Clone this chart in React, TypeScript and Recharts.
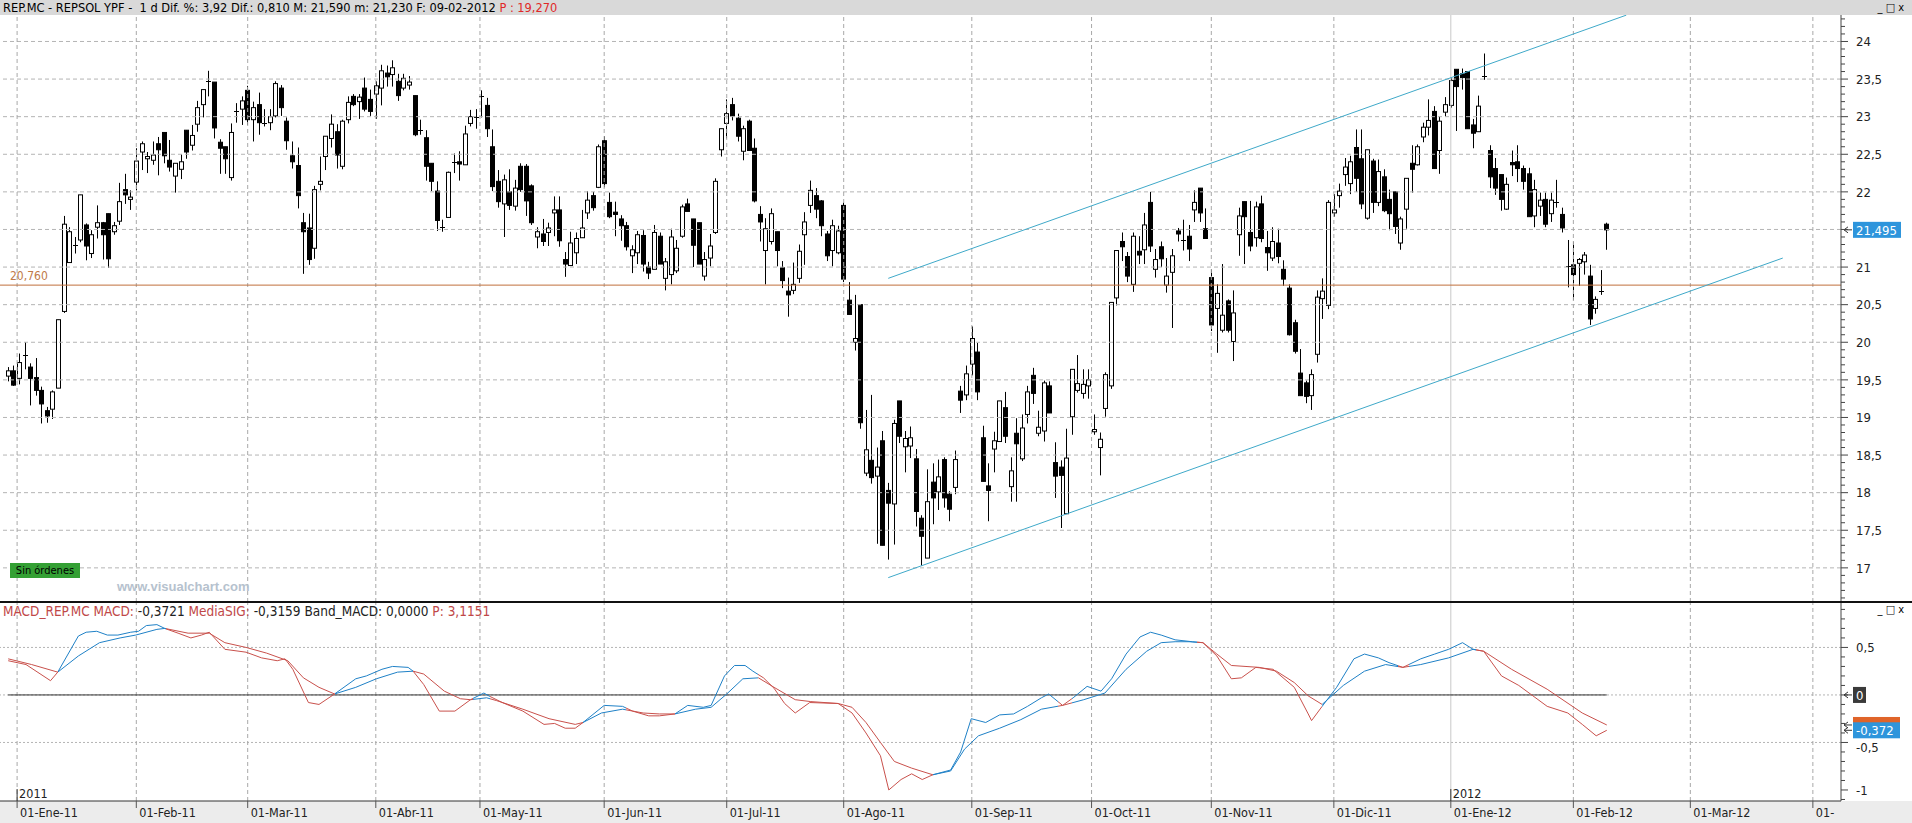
import React from 'react'
import { ComposedChart, LineChart, Line, Bar, XAxis, YAxis, ReferenceLine } from 'recharts'

const FONT = "'Liberation Sans Narrow', 'DejaVu Sans Condensed', 'Liberation Sans', sans-serif"
const RED = '#c8504b'
const BLUE = '#1e80c6'
const TREND = '#3fa9c9'

// x axis: trading-day index (0 = 30-Dec-2010)
const xDomain = [-1.47, 329.05]
const monthIdx = [1.6, 23, 43, 66, 84.7, 107, 129, 150, 173, 194.5, 216, 238, 259, 281, 302, 324]
const monthLabels = ['01-Ene-11', '01-Feb-11', '01-Mar-11', '01-Abr-11', '01-May-11', '01-Jun-11', '01-Jul-11', '01-Ago-11',
  '01-Sep-11', '01-Oct-11', '01-Nov-11', '01-Dic-11', '01-Ene-12', '01-Feb-12', '01-Mar-12', '01-']
const yearIdx = [1.6, 259]
const yearLabels = ['2011', '2012']

const priceDomain = [16.546, 24.352]
const priceGrid = [17, 17.5, 18, 18.5, 19, 19.5, 20, 20.5, 21, 21.5, 22, 22.5, 23, 23.5, 24]
const macdDomain = [-1.116, 0.978]
const macdLabels = [0.5, 0, -0.5, -1]

const opens = [
  19.55, 19.62, 19.52, 19.83, 19.67, 19.53, 19.36, 19.09, 19.11, 19.39,
  20.41, 21.06, 21.29, 21.36, 21.56, 21.18, 21.53, 21.59, 21.71, 21.47,
  21.61, 22.03, 21.90, 22.13, 22.53, 22.44, 22.42, 22.64, 22.79, 22.42,
  22.21, 22.30, 22.82, 22.62, 22.90, 23.16, 23.47, 23.46, 22.66, 22.60,
  22.19, 23.08, 23.10, 23.35, 22.96, 23.16, 22.92, 22.92, 23.01, 23.38,
  22.94, 22.48, 22.35, 21.59, 21.52, 21.25, 22.10, 22.47, 22.71, 22.80,
  22.34, 22.96, 23.27, 23.20, 23.38, 23.23, 23.30, 23.38, 23.58, 23.56,
  23.47, 23.38, 23.42, 23.28, 22.82, 22.72, 22.38, 22.01, 21.53, 21.66,
  22.40, 22.40, 22.36, 22.91, 23.00, 23.28, 23.15, 22.60, 22.14, 21.84,
  22.00, 21.81, 22.34, 22.34, 22.08, 21.40, 21.44, 21.46, 21.72, 21.76,
  21.10, 21.02, 21.19, 21.39, 21.72, 21.95, 22.06, 22.68, 21.86, 21.73,
  21.64, 21.55, 21.15, 21.19, 21.42, 21.00, 20.97, 21.41, 20.85, 20.90,
  20.95, 21.41, 21.84, 21.64, 21.59, 20.88, 21.12, 21.46, 22.56, 22.91,
  23.16, 22.98, 22.54, 22.94, 22.58, 21.70, 21.22, 21.34, 21.47, 20.99,
  20.68, 20.69, 20.85, 21.43, 21.82, 21.95, 21.88, 21.44, 21.22, 21.19,
  21.82, 20.56, 20.00, 20.50, 18.26, 18.43, 18.22, 18.69, 18.03, 17.85,
  19.22, 18.61, 18.62, 18.45, 17.66, 17.13, 18.14, 18.01, 18.44, 17.98,
  18.07, 19.35, 19.30, 19.71, 19.87, 18.73, 18.09, 18.58, 18.68, 19.13,
  18.08, 18.79, 18.45, 19.04, 19.56, 18.79, 18.82, 19.42, 18.40, 18.34,
  17.72, 19.01, 19.36, 19.32, 19.42, 18.81, 18.60, 19.12, 19.42, 20.59,
  21.34, 21.14, 20.77, 21.21, 21.23, 21.86, 20.97, 21.27, 20.76, 20.93,
  21.48, 21.36, 21.41, 21.76, 22.05, 21.51, 20.86, 20.45, 20.16, 20.55,
  20.01, 21.43, 21.87, 21.46, 21.39, 21.84, 21.26, 21.12, 21.32, 20.97,
  20.72, 20.26, 19.59, 19.46, 19.29, 19.84, 20.58, 20.49, 21.72, 21.95,
  22.23, 22.11, 22.59, 22.44, 21.65, 22.41, 21.86, 22.20, 21.90, 22.00,
  21.32, 21.77, 22.38, 22.36, 22.73, 22.86, 23.07, 22.55, 23.06, 23.15,
  23.63, 23.57, 23.60, 22.89, 22.80, 23.54, 22.55, 22.31, 22.23, 21.77,
  22.39, 22.40, 22.31, 22.24, 21.68, 21.81, 21.90, 21.71, 21.86, 21.70,
  21.01, 21.03, 21.05, 21.07, 20.88, 20.45, 20.685, 21.57,
]
const highs = [
  19.67, 19.69, 19.85, 20.00, 19.72, 19.79, 19.41, 19.14, 19.36, 20.30,
  21.68, 21.53, 21.40, 21.96, 21.58, 21.49, 21.82, 21.60, 21.71, 21.60,
  22.12, 22.24, 22.02, 22.58, 22.67, 22.53, 22.67, 22.73, 22.79, 22.69,
  22.38, 22.50, 22.82, 22.89, 23.21, 23.36, 23.61, 23.46, 22.70, 22.60,
  22.91, 23.18, 23.27, 23.41, 23.20, 23.32, 23.10, 23.10, 23.47, 23.42,
  22.99, 22.67, 22.59, 21.72, 21.71, 22.08, 22.47, 22.74, 23.03, 22.90,
  22.96, 23.27, 23.30, 23.30, 23.52, 23.36, 23.47, 23.69, 23.68, 23.75,
  23.57, 23.57, 23.54, 23.28, 22.96, 22.82, 22.38, 22.14, 21.63, 22.27,
  22.51, 22.54, 22.88, 23.09, 23.10, 23.35, 23.25, 22.83, 22.29, 22.23,
  22.30, 22.16, 22.38, 22.37, 22.10, 21.53, 21.64, 21.59, 21.94, 21.94,
  21.20, 21.47, 21.46, 21.76, 22.01, 22.00, 22.63, 22.74, 21.99, 21.87,
  21.69, 21.60, 21.29, 21.48, 21.49, 21.07, 21.56, 21.46, 21.12, 21.51,
  21.36, 21.83, 21.91, 21.64, 21.59, 21.20, 21.44, 22.18, 22.84, 23.23,
  23.25, 23.04, 22.88, 22.96, 22.71, 21.81, 21.65, 21.78, 21.47, 21.08,
  20.86, 21.06, 21.30, 21.73, 22.15, 22.05, 21.89, 21.48, 21.63, 21.55,
  21.86, 20.80, 20.63, 20.50, 19.10, 19.30, 18.60, 18.82, 18.13, 18.97,
  19.22, 18.82, 18.88, 18.58, 17.70, 18.31, 18.39, 18.44, 18.47, 18.02,
  18.56, 19.42, 19.69, 20.21, 19.99, 18.89, 18.39, 18.81, 19.22, 19.34,
  18.47, 18.99, 19.04, 19.42, 19.66, 19.09, 19.49, 19.48, 18.67, 18.43,
  18.85, 19.64, 19.83, 19.64, 19.64, 19.04, 18.80, 19.60, 20.53, 21.22,
  21.46, 21.20, 21.46, 21.41, 21.72, 22.00, 21.24, 21.34, 21.12, 21.24,
  21.52, 21.63, 21.56, 22.02, 22.05, 21.78, 20.97, 20.77, 21.04, 20.57,
  20.69, 21.79, 21.87, 21.88, 21.87, 21.95, 21.48, 21.53, 21.51, 21.09,
  20.77, 20.30, 19.91, 19.49, 19.64, 20.69, 20.85, 21.89, 21.97, 22.11,
  22.45, 22.48, 22.83, 22.83, 22.56, 22.44, 22.43, 22.30, 22.03, 22.00,
  21.67, 22.18, 22.62, 22.63, 22.92, 23.23, 23.14, 23.00, 23.26, 23.51,
  23.63, 23.64, 23.60, 22.97, 23.28, 23.84, 22.62, 22.45, 22.23, 22.19,
  22.55, 22.62, 22.35, 22.32, 22.16, 21.99, 21.99, 21.99, 22.16, 21.79,
  21.36, 21.34, 21.12, 21.20, 21.03, 20.61, 20.96, 21.59,
]
const lows = [
  19.48, 19.42, 19.44, 19.64, 19.16, 19.29, 18.92, 18.93, 18.98, 19.39,
  20.39, 21.06, 21.18, 21.33, 21.09, 21.12, 21.38, 21.10, 20.99, 21.43,
  21.56, 21.84, 21.76, 22.02, 22.29, 22.25, 22.36, 22.22, 22.38, 22.27,
  21.99, 22.17, 22.44, 22.55, 22.80, 22.99, 23.27, 22.71, 22.24, 22.24,
  22.15, 22.92, 22.89, 22.89, 22.67, 22.76, 22.87, 22.82, 22.99, 23.01,
  22.56, 22.31, 21.78, 20.91, 21.03, 21.11, 22.02, 22.29, 22.59, 22.31,
  22.30, 22.91, 23.14, 22.97, 23.07, 23.01, 22.97, 23.15, 23.40, 23.40,
  23.21, 23.35, 23.36, 22.74, 22.76, 22.15, 22.01, 21.48, 21.47, 21.66,
  22.25, 22.15, 22.36, 22.87, 22.84, 22.99, 22.73, 22.01, 21.79, 21.40,
  21.76, 21.75, 22.00, 21.68, 21.56, 21.25, 21.28, 21.28, 21.41, 21.27,
  20.87, 21.02, 21.04, 21.39, 21.64, 21.75, 22.05, 22.06, 21.65, 21.41,
  21.35, 21.22, 20.92, 21.04, 20.94, 20.84, 20.97, 21.04, 20.69, 20.77,
  20.92, 21.39, 21.74, 21.00, 21.04, 20.82, 21.01, 21.44, 22.47, 22.71,
  22.95, 22.67, 22.42, 22.55, 21.86, 21.34, 20.77, 21.30, 21.01, 20.72,
  20.34, 20.64, 20.79, 21.03, 21.72, 21.65, 21.41, 21.08, 21.01, 21.17,
  20.80, 20.37, 19.89, 18.85, 18.22, 18.12, 17.32, 17.30, 17.11, 17.31,
  18.66, 18.27, 18.46, 17.55, 17.03, 17.13, 17.58, 17.77, 17.80, 17.62,
  17.98, 19.06, 19.23, 19.56, 19.23, 18.15, 17.62, 18.27, 18.68, 18.66,
  17.88, 17.88, 18.42, 18.92, 19.18, 18.75, 18.68, 19.06, 17.93, 17.53,
  17.72, 18.77, 19.33, 19.25, 19.25, 18.77, 18.23, 19.01, 19.38, 20.49,
  21.08, 20.80, 20.67, 21.04, 21.04, 21.20, 20.86, 21.00, 20.66, 20.19,
  21.34, 21.22, 21.08, 21.60, 21.60, 21.38, 20.15, 19.86, 20.13, 20.13,
  19.75, 21.15, 21.04, 21.21, 21.27, 21.33, 20.95, 21.08, 21.05, 20.75,
  20.09, 19.85, 19.29, 19.19, 19.10, 19.73, 20.31, 20.44, 21.67, 21.79,
  22.08, 21.97, 22.00, 21.77, 21.63, 21.72, 21.81, 21.73, 21.49, 21.44,
  21.23, 21.51, 21.99, 22.35, 22.66, 22.75, 22.31, 22.24, 23.00, 23.12,
  22.81, 23.36, 22.84, 22.58, 22.80, 23.49, 22.05, 21.96, 21.75, 21.76,
  22.21, 22.13, 22.03, 21.67, 21.53, 21.68, 21.53, 21.60, 21.79, 21.46,
  20.73, 20.56, 20.75, 20.90, 20.23, 20.38, 20.63, 21.23,
]
const closes = [
  19.62, 19.43, 19.73, 19.83, 19.52, 19.36, 19.18, 19.02, 19.34, 20.30,
  21.57, 21.47, 21.29, 21.96, 21.28, 21.43, 21.59, 21.43, 21.11, 21.55,
  21.87, 21.96, 21.93, 22.41, 22.64, 22.47, 22.49, 22.56, 22.48, 22.33,
  22.38, 22.40, 22.53, 22.75, 23.12, 23.36, 23.47, 22.85, 22.58, 22.44,
  22.79, 23.08, 23.21, 22.96, 23.12, 22.92, 22.92, 23.00, 23.44, 23.12,
  22.68, 22.40, 21.95, 21.47, 21.10, 22.03, 22.14, 22.74, 22.90, 22.49,
  22.94, 23.19, 23.16, 23.26, 23.10, 23.07, 23.41, 23.61, 23.53, 23.65,
  23.28, 23.51, 23.46, 22.76, 22.82, 22.34, 22.14, 21.62, 21.53, 22.26,
  22.40, 22.37, 22.77, 23.00, 23.00, 23.28, 22.84, 22.07, 21.87, 22.16,
  21.82, 22.05, 22.03, 21.88, 21.59, 21.47, 21.34, 21.52, 21.76, 21.35,
  21.04, 21.32, 21.38, 21.52, 21.89, 21.79, 22.60, 22.11, 21.67, 21.70,
  21.55, 21.27, 21.23, 21.43, 21.04, 20.92, 21.46, 21.04, 21.07, 21.40,
  21.25, 21.80, 21.74, 21.29, 21.04, 21.10, 21.28, 22.14, 22.84, 23.04,
  23.01, 22.74, 22.84, 22.55, 21.88, 21.60, 21.51, 21.71, 21.22, 20.82,
  20.63, 20.77, 21.21, 21.60, 22.02, 21.77, 21.55, 21.15, 21.55, 21.48,
  20.84, 20.37, 20.05, 18.93, 18.57, 18.20, 18.34, 17.30, 17.86, 18.92,
  18.75, 18.72, 18.73, 17.75, 17.42, 17.88, 17.93, 18.21, 17.93, 17.78,
  18.44, 19.23, 19.58, 20.05, 19.34, 18.15, 18.03, 18.69, 19.22, 18.75,
  18.29, 18.65, 18.86, 19.34, 19.32, 18.87, 19.46, 19.06, 18.22, 18.23,
  18.46, 19.64, 19.45, 19.44, 19.50, 18.84, 18.71, 19.57, 20.53, 21.22,
  21.27, 20.88, 21.41, 21.16, 21.56, 21.28, 21.10, 21.11, 20.88, 21.15,
  21.44, 21.36, 21.24, 21.86, 21.72, 21.38, 20.23, 20.65, 20.36, 20.16,
  20.39, 21.68, 21.67, 21.28, 21.80, 21.38, 21.19, 21.34, 21.14, 20.84,
  20.10, 19.88, 19.29, 19.28, 19.57, 20.60, 20.68, 21.86, 21.76, 22.01,
  22.33, 22.40, 22.18, 21.84, 22.56, 21.86, 22.27, 21.75, 21.71, 21.54,
  21.64, 22.18, 22.30, 22.60, 22.86, 22.95, 22.31, 22.94, 23.16, 23.48,
  23.40, 23.52, 22.84, 22.78, 23.14, 23.54, 22.20, 22.05, 21.90, 22.10,
  22.36, 22.31, 22.14, 21.67, 22.03, 21.89, 21.57, 21.89, 21.86, 21.52,
  21.01, 20.90, 21.10, 21.16, 20.31, 20.57, 20.685, 21.495,
]

// MACD (fast line) and its signal, read at turning points
const macdIdx = [0, 3.2, 7.6, 8.9, 12.6, 14, 15.9, 17.8, 19.7, 22, 23.4, 24.8, 26.7, 28.1, 30.5, 32.8, 34.7, 36.1, 38.9, 42.7,
  45.5, 48.3, 49.7, 51.1, 53.9, 55.8, 58.6, 62.4, 64.3, 67.1, 69, 71.8, 72.7, 74.6, 77.4, 80.2, 83, 85.4, 86.3, 88.7,
  92.4, 96.2, 98.1, 100, 101.8, 103.2, 107, 110.3, 112.1, 115, 116.9, 119.7, 122, 124.8, 126.2, 128.6, 130.4, 132.3, 133.7, 135.6,
  137.5, 139.4, 141.3, 143.9, 149, 151.5, 154, 156.6, 158.1, 160.3, 162.2, 164.1, 166, 169.2, 171, 172.9, 175.5, 178, 180.5, 183,
  185.5, 186.8, 189.3, 191.2, 193.7, 196.2, 198.1, 200.7, 203.2, 205.1, 207, 209.5, 212.6, 214.5, 217, 219.6, 221.4, 224, 227.1, 230.9,
  233.4, 234, 235.9, 238.5, 241.6, 243.5, 246, 247.9, 250.4, 253.6, 256.1, 258.6, 261.1, 263, 264.9, 268.1, 271.2, 276.3, 280, 282.6,
  285.1, 287]
const macdVal = [0.36, 0.32, 0.15, 0.24, 0.62, 0.66, 0.67, 0.63, 0.63, 0.66, 0.67, 0.73, 0.74, 0.70, 0.65, 0.60, 0.63, 0.66, 0.48, 0.45,
  0.39, 0.36, 0.38, 0.27, -0.08, -0.10, 0.01, 0.17, 0.20, 0.27, 0.30, 0.29, 0.25, 0.11, -0.17, -0.17, -0.05, 0.02, -0.01, -0.08,
  -0.17, -0.31, -0.30, -0.35, -0.35, -0.29, -0.11, -0.12, -0.17, -0.22, -0.22, -0.20, -0.11, -0.13, -0.11, 0.20, 0.31, 0.31, 0.25, 0.18,
  0.07, -0.09, -0.19, -0.08, -0.09, -0.19, -0.40, -0.64, -1.00, -0.89, -0.83, -0.89, -0.84, -0.79, -0.60, -0.25, -0.29, -0.21, -0.20, -0.12,
  -0.03, 0.01, -0.11, -0.03, 0.09, 0.04, 0.17, 0.43, 0.61, 0.66, 0.63, 0.58, 0.56, 0.55, 0.41, 0.17, 0.18, 0.29, 0.27, 0.08,
  -0.20, -0.27, -0.12, 0.08, 0.38, 0.43, 0.39, 0.34, 0.29, 0.38, 0.43, 0.48, 0.55, 0.48, 0.46, 0.20, 0.10, -0.12, -0.19, -0.31,
  -0.43, -0.372]
const sigIdx = [0, 4.2, 8.9, 12.6, 16.4, 20.1, 22.9, 26.7, 28.1, 32.3, 36.1, 38.9, 42.7, 46.4, 50.2, 53, 55.8, 58.6, 62.4, 66.1,
  69.9, 72.7, 74.6, 78.3, 81.2, 83, 85.9, 87.7, 92.4, 97.1, 101.8, 103.2, 106.5, 110.3, 114, 116.9, 119.7, 123.4, 126.2, 129,
  131.9, 134.7, 137.5, 141.3, 144.1, 149, 151.5, 154, 156.6, 159.1, 162.2, 166, 169.2, 171.7, 174.2, 178, 181.8, 185.5, 189.3, 193.1,
  196.9, 200.7, 204.4, 207, 209.5, 212, 214.5, 217, 219.6, 224.6, 227.7, 230.9, 233.4, 235.9, 239.7, 243.5, 247.3, 250.4, 253.6, 258.6,
  263, 264.9, 269.9, 276.3, 282.6, 287]
const sigVal = [0.38, 0.32, 0.24, 0.41, 0.55, 0.60, 0.63, 0.69, 0.70, 0.65, 0.65, 0.55, 0.50, 0.44, 0.36, 0.18, 0.08, 0.01, 0.08, 0.17,
  0.24, 0.25, 0.22, 0.04, -0.04, -0.05, -0.03, -0.06, -0.15, -0.25, -0.31, -0.29, -0.19, -0.15, -0.19, -0.20, -0.20, -0.15, -0.13, 0.01,
  0.17, 0.18, 0.08, -0.05, -0.07, -0.09, -0.13, -0.29, -0.50, -0.70, -0.77, -0.84, -0.80, -0.57, -0.43, -0.35, -0.26, -0.15, -0.11, -0.05,
  0.02, 0.27, 0.46, 0.55, 0.56, 0.56, 0.55, 0.43, 0.31, 0.29, 0.25, 0.13, -0.01, -0.10, 0.10, 0.25, 0.32, 0.29, 0.32, 0.39,
  0.48, 0.46, 0.27, 0.06, -0.19, -0.316]
// where the two lines swap colour (red: MACD below signal, blue: above)
const crossIdx = [8.9, 28.3, 58.6, 72.7, 83.5, 86.5, 103.2, 111, 119.7, 134.7, 166, 188.5, 191, 213.5, 235.9, 249.5, 251.5, 263.5]

// channel lines drawn on the price panel
const upperIdx = [158, 290.5]
const upperVal = [20.85, 24.35]
const lowerIdx = [158, 318.6]
const lowerVal = [16.87, 21.12]
const levelLine = 20.76

const candles = opens.map((o, i) => ({ i, open: o, high: highs[i], low: lows[i], close: closes[i] }))
const pairs = (xs: number[], ys: number[]) => xs.slice(0, ys.length).map((x, k) => ({ i: x, v: ys[k] }))
const macdData = pairs(macdIdx, macdVal)
const sigData = pairs(sigIdx, sigVal)
const zeroData = pairs([0, 287], [0, 0])
const lastIdx = closes.length - 1
const lastClose = closes[lastIdx]

const comma = (v: number) => String(v).replace('.', ',')
const isHalf = (v: number) => Math.abs(v * 2 - Math.round(v * 2)) < 1e-6
const range = (a: number, b: number, step: number) => {
  const out: number[] = []
  for (let k = Math.round(a / step); k <= Math.round(b / step); k++) out.push(Math.round(k * step * 10) / 10)
  return out
}
const priceTicks = range(16.6, 24.3, 0.1)
const macdTicks = range(-1.1, 0.9, 0.1)

function Candle(props: any) {
  const { x, y, width, height, payload } = props
  const { open, close, high, low } = payload
  const top0 = Math.min(y, y + height)
  const h = Math.abs(height)
  const cx = Math.round(x + width / 2) + 0.5
  const span = high - low
  const toY = (v: number) => (span === 0 ? top0 : top0 + ((high - v) / span) * h)
  const bt = toY(Math.max(open, close))
  const bb = toY(Math.min(open, close))
  const up = close >= open
  return (
    <g>
      <line x1={cx} x2={cx} y1={top0} y2={top0 + h} stroke="#000" strokeWidth={1} />
      {bb - bt < 1.2 ? (
        <line x1={cx - 2.5} x2={cx + 2.5} y1={Math.round(bt) + 0.5} y2={Math.round(bt) + 0.5} stroke="#000" />
      ) : (
        <rect x={cx - 2} y={bt} width={4} height={bb - bt} fill={up ? '#fff' : '#000'} stroke="#000" strokeWidth={1} />
      )}
    </g>
  )
}

function Arrow({ x, y }: any) {
  return <path d={`M${x + 3},${y} h8 M${x + 3},${y} l4,-3 M${x + 3},${y} l4,3`} stroke="#333" fill="none" />
}

function PriceTick(props: any) {
  const { x, y, payload } = props
  const v = payload.value
  const major = isHalf(v)
  // the last-price box sits over the label nearest to it
  const covered = Math.abs(v - lastClose) < 0.15
  return (
    <g>
      <line x1={x} x2={x + (major ? 7 : 4)} y1={y} y2={y} stroke="#444" />
      {major && !covered && (
        <text x={x + 15} y={y} dy="0.36em" fontSize={13} fill="#222">{comma(v)}</text>
      )}
    </g>
  )
}

function MacdTick(props: any) {
  const { x, y, payload } = props
  const v = payload.value
  const major = isHalf(v)
  const show = macdLabels.some((m) => Math.abs(m - v) < 1e-6)
  if (Math.abs(v) < 1e-6) {
    return (
      <g>
        <line x1={x} x2={x + 7} y1={y} y2={y} stroke="#444" />
        <Arrow x={x} y={y} />
        <rect x={x + 12} y={y - 8} width={13} height={16} fill="#3a3a3a" />
        <text x={x + 15} y={y} dy="0.36em" fontSize={13} fill="#fff">0</text>
      </g>
    )
  }
  return (
    <g>
      <line x1={x} x2={x + (major ? 7 : 4)} y1={y} y2={y} stroke="#444" />
      {show && <text x={x + 15} y={y} dy={v === -0.5 ? '0.7em' : '0.36em'} fontSize={13} fill="#222">{comma(v)}</text>}
    </g>
  )
}

function MonthTick(props: any) {
  const { x, y, payload } = props
  const k = monthIdx.indexOf(payload.value)
  return (
    <g>
      <line x1={x} x2={x} y1={y} y2={y + 7} stroke="#555" />
      <text x={x + 3} y={y + 16} fontSize={12.5} fill="#222">{monthLabels[k]}</text>
    </g>
  )
}

function ValueBox(props: any) {
  const { viewBox, text, fill, w } = props
  const ax = viewBox.x + viewBox.width
  const y = viewBox.y
  return (
    <g>
      <Arrow x={ax} y={y} />
      <rect x={ax + 12} y={y - 8} width={w} height={16} fill={fill} />
      <text x={ax + 15} y={y} dy="0.36em" fontSize={13} fill="#fff">{text}</text>
    </g>
  )
}

function LevelLabel(props: any) {
  const { viewBox } = props
  return (
    <text x={viewBox.x + 10} y={viewBox.y - 5} fontSize={12} fill="#c07a48">{comma(levelLine).padEnd(6, '0')}</text>
  )
}

function YearLabel(props: any) {
  const { viewBox, text } = props
  const bottom = viewBox.y + viewBox.height
  return (
    <g>
      <line x1={viewBox.x} x2={viewBox.x} y1={bottom - 12} y2={bottom} stroke="#333" />
      <text x={viewBox.x + 2} y={bottom - 3} fontSize={12.5} fill="#222">{text}</text>
    </g>
  )
}

function gradientStops() {
  const stops: any[] = []
  let color = RED
  stops.push(<stop key="s" offset={0} stopColor={color} />)
  crossIdx.forEach((c, k) => {
    const off = c / lastIdx
    stops.push(<stop key={`a${k}`} offset={off} stopColor={color} />)
    color = color === RED ? BLUE : RED
    stops.push(<stop key={`b${k}`} offset={off} stopColor={color} />)
  })
  stops.push(<stop key="e" offset={1} stopColor={color} />)
  return stops
}

const gridLineProps = (m: number) => ({
  stroke: m === 259 ? '#c8c8c8' : '#a8a8a8',
  strokeDasharray: m === 259 ? undefined : '4 3',
})

export default function App() {
  return (
    <div style={{ position: 'absolute', left: 0, top: 0, width: 1912, height: 823, background: '#fff', overflow: 'hidden', fontFamily: FONT }}>
      <div style={{ position: 'absolute', left: 0, top: 0, width: 1912, height: 15, background: '#d9d9d9', fontSize: 12.7, lineHeight: '15px', whiteSpace: 'pre' }}>
        <span style={{ marginLeft: 3 }}>REP.MC - REPSOL YPF -  1 d Dif. %: 3,92 Dif.: 0,810 M: 21,590 m: 21,230 F: 09-02-2012 </span>
        <span style={{ color: '#e02828' }}>P : 19,270</span>
        <span style={{ position: 'absolute', right: 8, top: 0, fontSize: 11 }}>_ □ x</span>
      </div>

      <div style={{ position: 'absolute', left: 0, top: 15 }}>
        <ComposedChart width={1912} height={587} data={candles} margin={{ top: 0, right: 0, left: 0, bottom: 0 }}>
          <XAxis dataKey="i" type="number" domain={xDomain} ticks={monthIdx} hide allowDataOverflow />
          <YAxis
            orientation="right"
            width={71}
            domain={priceDomain}
            ticks={priceTicks}
            interval={0}
            tickSize={0}
            tickMargin={0}
            tick={<PriceTick />}
            axisLine={{ stroke: '#444' }}
            allowDataOverflow
          />
          {priceGrid.map((g) => (
            <ReferenceLine key={`h${g}`} y={g} stroke="#b4b4b4" strokeDasharray="4 3" />
          ))}
          {monthIdx.map((m) => (
            <ReferenceLine key={`v${m}`} x={m} {...gridLineProps(m)} />
          ))}
          <ReferenceLine y={levelLine} stroke="#c0703c" label={<LevelLabel />} />
          <Bar dataKey={(d: any) => [d.low, d.high]} barSize={5} shape={<Candle />} isAnimationActive={false} />
          <Line data={pairs(upperIdx, upperVal)} dataKey="v" stroke={TREND} dot={false} strokeWidth={1} isAnimationActive={false} />
          <Line data={pairs(lowerIdx, lowerVal)} dataKey="v" stroke={TREND} dot={false} strokeWidth={1} isAnimationActive={false} />
          <ReferenceLine y={lastClose} stroke="none" label={<ValueBox text={comma(lastClose)} fill="#2e95dc" w={48} />} />
        </ComposedChart>
      </div>

      <div style={{ position: 'absolute', left: 10, top: 563, width: 70, height: 15, background: '#34a034', fontSize: 11, lineHeight: '15px', textAlign: 'center', color: '#000' }}>
        Sin órdenes
      </div>
      <div style={{ position: 'absolute', left: 117, top: 579, fontSize: 13, fontWeight: 'bold', color: '#b6c2ce', fontFamily: "'Liberation Sans', sans-serif" }}>
        www.visualchart.com
      </div>

      <div style={{ position: 'absolute', left: 0, top: 801, width: 1912, height: 22, background: '#ececec' }} />
      <div style={{ position: 'absolute', left: 0, top: 602 }}>
        <LineChart width={1912} height={221} margin={{ top: 0, right: 0, left: 0, bottom: 0 }}>
          <defs>
            <linearGradient id="macdGrad" x1="0" y1="0" x2="1" y2="0">
              {gradientStops()}
            </linearGradient>
          </defs>
          <XAxis
            dataKey="i"
            type="number"
            domain={xDomain}
            ticks={monthIdx}
            interval={0}
            height={22}
            tickSize={0}
            tickMargin={0}
            tick={<MonthTick />}
            axisLine={{ stroke: '#333' }}
            allowDataOverflow
          />
          <YAxis
            orientation="right"
            width={71}
            domain={macdDomain}
            ticks={macdTicks}
            interval={0}
            tickSize={0}
            tickMargin={0}
            tick={<MacdTick />}
            axisLine={{ stroke: '#444' }}
            allowDataOverflow
          />
          {[0.5, 0, -0.5].map((g) => (
            <ReferenceLine key={`mh${g}`} y={g} stroke="#b4b4b4" strokeDasharray="2 2" />
          ))}
          {monthIdx.map((m) => (
            <ReferenceLine key={`mv${m}`} x={m} {...gridLineProps(m)} />
          ))}
          {yearIdx.map((yv, k) => (
            <ReferenceLine key={`y${yv}`} x={yv} stroke="none" label={<YearLabel text={yearLabels[k]} />} />
          ))}
          <Line data={zeroData} dataKey="v" stroke="#333" dot={false} strokeWidth={1} isAnimationActive={false} />
          <Line data={sigData} dataKey="v" stroke="url(#macdGrad)" dot={false} strokeWidth={1} isAnimationActive={false} />
          <Line data={macdData} dataKey="v" stroke="url(#macdGrad)" dot={false} strokeWidth={1} isAnimationActive={false} />
          <ReferenceLine y={sigVal[sigVal.length - 1]} stroke="none" label={<ValueBox text="" fill="#e0642a" w={47} />} />
          <ReferenceLine y={macdVal[macdVal.length - 1]} stroke="none" label={<ValueBox text={comma(macdVal[macdVal.length - 1])} fill="#2e95dc" w={47} />} />
        </LineChart>
      </div>

      <div style={{ position: 'absolute', left: 0, top: 601, width: 1912, height: 2, background: '#111' }} />
      <div style={{ position: 'absolute', left: 3, top: 604, fontSize: 13.5, lineHeight: '14px', whiteSpace: 'pre', color: '#222' }}>
        <span style={{ color: '#c04848' }}>MACD_REP.MC MACD: </span>
        <span>-0,3721 </span>
        <span style={{ color: '#c04848' }}>MediaSIG: </span>
        <span>-0,3159 Band_MACD: 0,0000 </span>
        <span style={{ color: '#c04848' }}>P: 3,1151</span>
      </div>
      <div style={{ position: 'absolute', right: 8, top: 604, fontSize: 11, lineHeight: '12px' }}>_ □ x</div>
    </div>
  )
}
